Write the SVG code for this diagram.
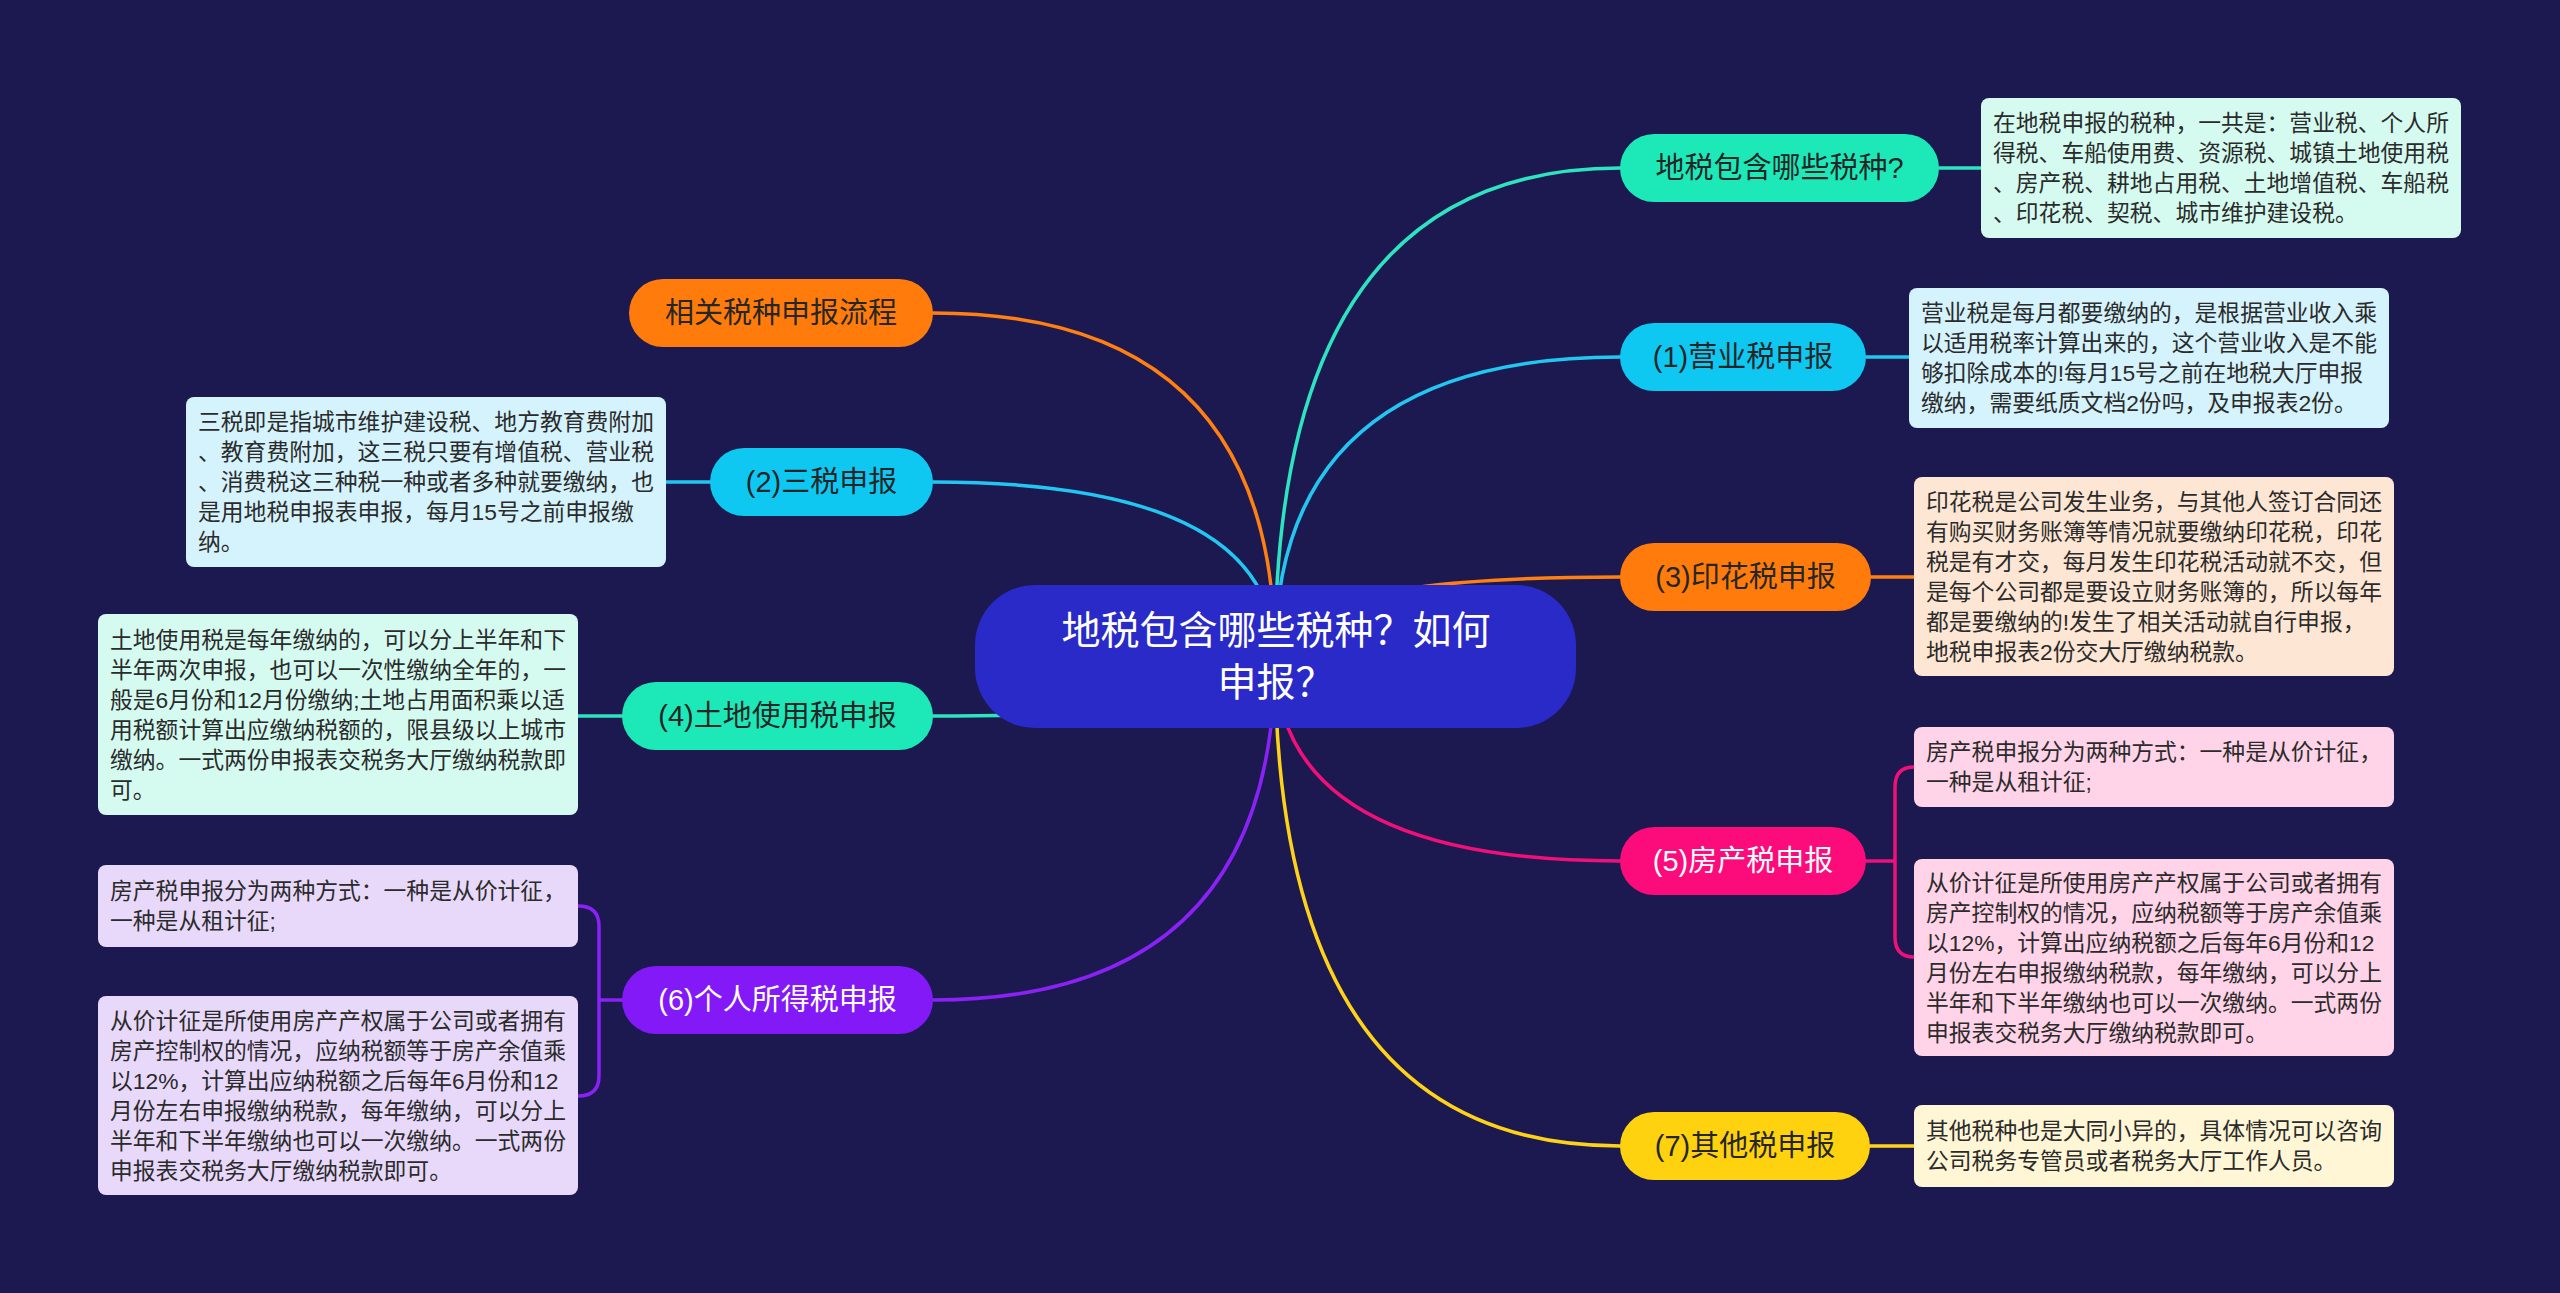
<svg xmlns="http://www.w3.org/2000/svg" width="2560" height="1293" viewBox="0 0 2560 1293">
<style>
text{font-family:"Liberation Sans","Noto Sans CJK SC",sans-serif}
.lbl{font-size:29px;text-anchor:middle;fill:#262626}
.lblw{font-size:29px;text-anchor:middle;fill:#ffffff}
.leaf{font-size:22.8px;fill:#2b2b2b}
.con{fill:none;stroke-width:3.5;stroke-linecap:round}
.teal{fill:#1de9b8}.cyan{fill:#0ec8f2}.orange{fill:#ff7c0c}.pink{fill:#fc0c7b}.yellow{fill:#ffd20f}.purple{fill:#8219f6}
</style>
<rect x="0" y="0" width="2560" height="1293" fill="#1b1950"/>
<g id="connectors">
<path class="con" stroke="#2de3c0" d="M1275 656 Q1275 168 1620 168"/>
<path class="con" stroke="#22c6f0" d="M1275 656 Q1275 357 1620 357"/>
<path class="con" stroke="#ff7f12" d="M1275 656 Q1275 577 1620 577"/>
<path class="con" stroke="#f0107a" d="M1275 656 Q1275 861 1620 861"/>
<path class="con" stroke="#ffd21a" d="M1275 656 Q1275 1146 1620 1146"/>
<path class="con" stroke="#ff7f12" d="M1275 656 Q1275 313 933 313"/>
<path class="con" stroke="#22c6f0" d="M1275 656 Q1275 482 933 482"/>
<path class="con" stroke="#2de3c0" d="M1275 656 Q1275 716 933 716"/>
<path class="con" stroke="#8a22f5" d="M1275 656 Q1275 1000 933 1000"/>
<path class="con" stroke="#2de3c0" d="M1939 168 H1981"/>
<path class="con" stroke="#22c6f0" d="M1866 357 H1909"/>
<path class="con" stroke="#ff7f12" d="M1871 577 H1914"/>
<path class="con" stroke="#ffd21a" d="M1870 1146 H1914"/>
<path class="con" stroke="#22c6f0" d="M666 482 H710"/>
<path class="con" stroke="#2de3c0" d="M578 716 H622"/>
<path class="con" stroke="#f0107a" d="M1866 861 H1895 M1914 767 Q1895 767 1895 787 V937 Q1895 957 1914 957"/>
<path class="con" stroke="#8a22f5" d="M622 1000 H599 M578 906 Q599 906 599 926 V1076 Q599 1096 578 1096"/>
</g>
<g id="center">
<rect x="975" y="585" width="601" height="143" rx="60" fill="#2a2ac9"/>
<text x="1276" y="644" font-size="39" text-anchor="middle" fill="#fff">地税包含哪些税种？如何</text>
<text x="1276" y="696" font-size="39" text-anchor="middle" fill="#fff">申报？</text>
</g>
<g id="node-r1">
<rect class="teal" x="1620" y="134" width="319" height="68" rx="34"/>
<text class="lbl" x="1779.5" y="178">地税包含哪些税种?</text>
</g>
<g id="node-r2">
<rect class="cyan" x="1620" y="323" width="246" height="68" rx="34"/>
<text class="lbl" x="1743" y="367">(1)营业税申报</text>
</g>
<g id="node-r3">
<rect class="orange" x="1620" y="543" width="251" height="68" rx="34"/>
<text class="lbl" x="1745.5" y="587">(3)印花税申报</text>
</g>
<g id="node-r5">
<rect class="pink" x="1620" y="827" width="246" height="68" rx="34"/>
<text class="lblw" x="1743" y="871">(5)房产税申报</text>
</g>
<g id="node-r7">
<rect class="yellow" x="1620" y="1112" width="250" height="68" rx="34"/>
<text class="lbl" x="1745" y="1156">(7)其他税申报</text>
</g>
<g id="node-l0">
<rect class="orange" x="629" y="279" width="304" height="68" rx="34"/>
<text class="lbl" x="781" y="323">相关税种申报流程</text>
</g>
<g id="node-l2">
<rect class="cyan" x="710" y="448" width="223" height="68" rx="34"/>
<text class="lbl" x="821.5" y="492">(2)三税申报</text>
</g>
<g id="node-l4">
<rect class="teal" x="622" y="682" width="311" height="68" rx="34"/>
<text class="lbl" x="777.5" y="726">(4)土地使用税申报</text>
</g>
<g id="node-l6">
<rect class="purple" x="622" y="966" width="311" height="68" rx="34"/>
<text class="lblw" x="777.5" y="1010">(6)个人所得税申报</text>
</g>
<g id="leaf-a">
<rect x="1981" y="98" width="480" height="140" rx="8" fill="#d5fbf1"/>
<text class="leaf" x="1993" y="131"><tspan x="1993">在地税申报的税种，一共是：营业税、个人所</tspan><tspan x="1993" dy="30">得税、车船使用费、资源税、城镇土地使用税</tspan><tspan x="1993" dy="30">、房产税、耕地占用税、土地增值税、车船税</tspan><tspan x="1993" dy="30">、印花税、契税、城市维护建设税。</tspan></text>
</g>
<g id="leaf-b">
<rect x="1909" y="288" width="480" height="140" rx="8" fill="#d5f3fc"/>
<text class="leaf" x="1921" y="321"><tspan x="1921">营业税是每月都要缴纳的，是根据营业收入乘</tspan><tspan x="1921" dy="30">以适用税率计算出来的，这个营业收入是不能</tspan><tspan x="1921" dy="30">够扣除成本的!每月15号之前在地税大厅申报</tspan><tspan x="1921" dy="30">缴纳，需要纸质文档2份吗，及申报表2份。</tspan></text>
</g>
<g id="leaf-c">
<rect x="1914" y="477" width="480" height="199" rx="8" fill="#fde7d4"/>
<text class="leaf" x="1926" y="509.5"><tspan x="1926">印花税是公司发生业务，与其他人签订合同还</tspan><tspan x="1926" dy="30">有购买财务账簿等情况就要缴纳印花税，印花</tspan><tspan x="1926" dy="30">税是有才交，每月发生印花税活动就不交，但</tspan><tspan x="1926" dy="30">是每个公司都是要设立财务账簿的，所以每年</tspan><tspan x="1926" dy="30">都是要缴纳的!发生了相关活动就自行申报，</tspan><tspan x="1926" dy="30">地税申报表2份交大厅缴纳税款。</tspan></text>
</g>
<g id="leaf-d1">
<rect x="1914" y="727" width="480" height="80" rx="8" fill="#ffd4e8"/>
<text class="leaf" x="1926" y="760"><tspan x="1926">房产税申报分为两种方式：一种是从价计征，</tspan><tspan x="1926" dy="30">一种是从租计征;</tspan></text>
</g>
<g id="leaf-d2">
<rect x="1914" y="859" width="480" height="197" rx="8" fill="#ffd4e8"/>
<text class="leaf" x="1926" y="890.5"><tspan x="1926">从价计征是所使用房产产权属于公司或者拥有</tspan><tspan x="1926" dy="30">房产控制权的情况，应纳税额等于房产余值乘</tspan><tspan x="1926" dy="30">以12%，计算出应纳税额之后每年6月份和12</tspan><tspan x="1926" dy="30">月份左右申报缴纳税款，每年缴纳，可以分上</tspan><tspan x="1926" dy="30">半年和下半年缴纳也可以一次缴纳。一式两份</tspan><tspan x="1926" dy="30">申报表交税务大厅缴纳税款即可。</tspan></text>
</g>
<g id="leaf-e">
<rect x="1914" y="1105" width="480" height="82" rx="8" fill="#fff6d6"/>
<text class="leaf" x="1926" y="1139"><tspan x="1926">其他税种也是大同小异的，具体情况可以咨询</tspan><tspan x="1926" dy="30">公司税务专管员或者税务大厅工作人员。</tspan></text>
</g>
<g id="leaf-f">
<rect x="186" y="397" width="480" height="170" rx="8" fill="#d5f3fc"/>
<text class="leaf" x="198" y="430"><tspan x="198">三税即是指城市维护建设税、地方教育费附加</tspan><tspan x="198" dy="30">、教育费附加，这三税只要有增值税、营业税</tspan><tspan x="198" dy="30">、消费税这三种税一种或者多种就要缴纳，也</tspan><tspan x="198" dy="30">是用地税申报表申报，每月15号之前申报缴</tspan><tspan x="198" dy="30">纳。</tspan></text>
</g>
<g id="leaf-g">
<rect x="98" y="614" width="480" height="201" rx="8" fill="#d5fbf1"/>
<text class="leaf" x="110" y="647.5"><tspan x="110">土地使用税是每年缴纳的，可以分上半年和下</tspan><tspan x="110" dy="30">半年两次申报，也可以一次性缴纳全年的，一</tspan><tspan x="110" dy="30">般是6月份和12月份缴纳;土地占用面积乘以适</tspan><tspan x="110" dy="30">用税额计算出应缴纳税额的，限县级以上城市</tspan><tspan x="110" dy="30">缴纳。一式两份申报表交税务大厅缴纳税款即</tspan><tspan x="110" dy="30">可。</tspan></text>
</g>
<g id="leaf-h1">
<rect x="98" y="865" width="480" height="82" rx="8" fill="#e8d9fb"/>
<text class="leaf" x="110" y="899"><tspan x="110">房产税申报分为两种方式：一种是从价计征，</tspan><tspan x="110" dy="30">一种是从租计征;</tspan></text>
</g>
<g id="leaf-h2">
<rect x="98" y="996" width="480" height="199" rx="8" fill="#e8d9fb"/>
<text class="leaf" x="110" y="1028.5"><tspan x="110">从价计征是所使用房产产权属于公司或者拥有</tspan><tspan x="110" dy="30">房产控制权的情况，应纳税额等于房产余值乘</tspan><tspan x="110" dy="30">以12%，计算出应纳税额之后每年6月份和12</tspan><tspan x="110" dy="30">月份左右申报缴纳税款，每年缴纳，可以分上</tspan><tspan x="110" dy="30">半年和下半年缴纳也可以一次缴纳。一式两份</tspan><tspan x="110" dy="30">申报表交税务大厅缴纳税款即可。</tspan></text>
</g>
</svg>
